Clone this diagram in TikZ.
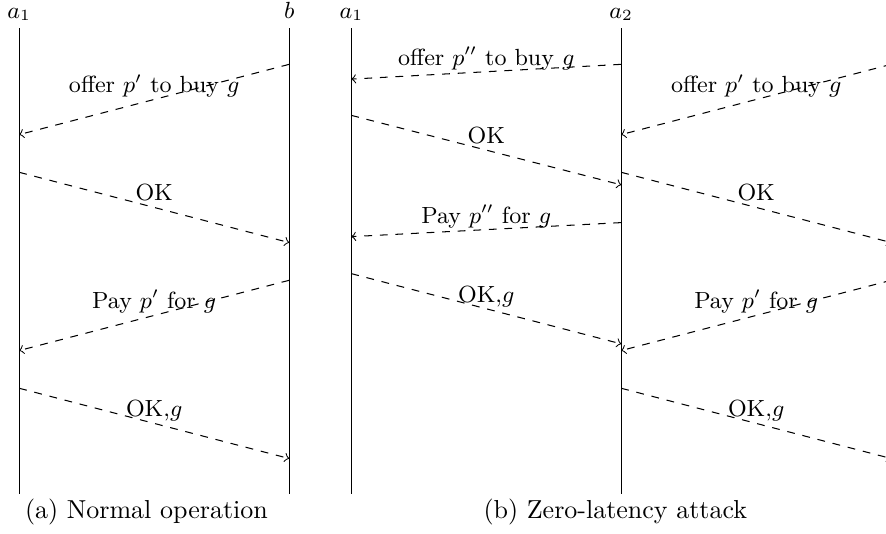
\documentclass[tikz,border=0pt]{standalone}
\begin{document}
\begin{tikzpicture}[
    msg/.style={->, dashed},
    lbl/.style={midway, anchor=base, yshift=2.5pt, font=\small},
    head/.style={anchor=base, yshift=3.8pt, font=\small}
]
    % Frame
    \useasboundingbox (-0.26,-0.54) rectangle (11.72,6.68);
    \clip (-0.26,-0.54) rectangle (11.72,6.68);

    % Lifelines
    \coordinate (a1) at (0,6.30);
    \coordinate (b) at (3.65,6.30);
    \coordinate (c1) at (4.49,6.30);
    \coordinate (c2) at (8.14,6.30);
    \coordinate (cb) at (11.79,6.30);
    \foreach \l in {a1,b,c1,c2,cb}
        \draw (\l) -- (\l |- 0,0);

    % Names
    \node[head] (a1name) at (a1) {$a_1$};
    \node[head] (bname) at (b) {$b$};
    \node[head] (c1name) at (c1) {$a_1$};
    \node[head] (c2name) at (c2) {$a_2$};
    \node[head] (cbname) at (cb) {$b$};

    % Normal operation
    \draw[msg] (b |- 0,5.81) -- (a1 |- 0,4.86) node[lbl] (m1) {offer $p'$ to buy $g$};
    \draw[msg] (a1 |- 0,4.35) -- (b |- 0,3.40) node[lbl] (m2) {OK};
    \draw[msg] (b |- 0,2.89) -- (a1 |- 0,1.94) node[lbl] (m3) {Pay $p'$ for $g$};
    \draw[msg] (a1 |- 0,1.43) -- (b |- 0,0.48) node[lbl] (m4) {OK,$g$};

    % Zero-latency attack
    \draw[msg] (c2 |- 0,5.81) -- (c1 |- 0,5.61) node[lbl] (n1) {offer $p''$ to buy $g$};
    \draw[msg] (cb |- 0,5.81) -- (c2 |- 0,4.86) node[lbl] (n2) {offer $p'$ to buy $g$};
    \draw[msg] (c1 |- 0,5.12) -- (c2 |- 0,4.18) node[lbl] (n3) {OK};
    \draw[msg] (c2 |- 0,4.35) -- (cb |- 0,3.40) node[lbl] (n4) {OK};
    \draw[msg] (c2 |- 0,3.67) -- (c1 |- 0,3.48) node[lbl] (n5) {Pay $p''$ for $g$};
    \draw[msg] (c1 |- 0,2.98) -- (c2 |- 0,2.03) node[lbl] (n6) {OK,$g$};
    \draw[msg] (cb |- 0,2.89) -- (c2 |- 0,1.94) node[lbl] (n7) {Pay $p'$ for $g$};
    \draw[msg] (c2 |- 0,1.43) -- (cb |- 0,0.48) node[lbl] (n8) {OK,$g$};

    % Captions
    \node[anchor=base] (capa) at (1.72,-0.33) {(a) Normal operation};
    \node[anchor=base] (capb) at (8.06,-0.33) {(b) Zero-latency attack};
\end{tikzpicture}
\end{document}
